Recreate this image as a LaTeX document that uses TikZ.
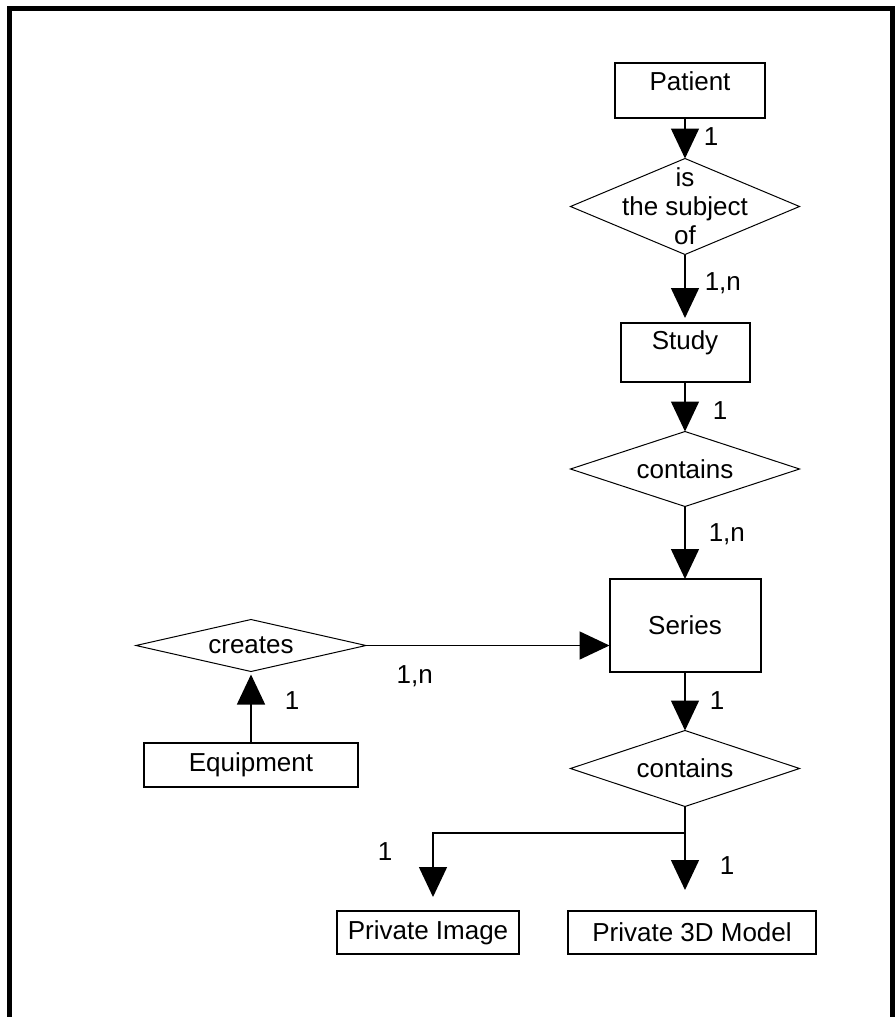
\documentclass[tikz,border=0pt]{standalone}
\usepackage{fontspec}
\setmainfont{Liberation Sans}
\usetikzlibrary{shapes.geometric,positioning,arrows.meta}
\tikzset{
  entity/.style={draw,line width=2pt,inner sep=0pt,outer sep=0pt},
  relship/.style={diamond,draw,line width=1pt,inner sep=0pt,outer sep=0pt,minimum width=229pt},
  card/.style={inner sep=0pt},
  rel/.style={line width=1.5pt,-{Triangle[length=30pt,width=28pt]}}
}

\begin{document}
\begin{tikzpicture}[x=1pt,y=-1pt,font=\fontsize{26}{29}\selectfont]
  \useasboundingbox (0,0) rectangle (896,1017);
  \draw[line width=5pt,line join=miter] (9.5,1025) -- (9.5,8) -- (892.5,8) -- (892.5,1025);

  \node[relship,minimum height=96pt,label={[align=center]center:is\\the subject\\of}] (subject) at (685,206.5) {};
  \node[entity,minimum width=150pt,minimum height=55pt,text depth=18pt] (patient) [above=40.5pt of subject,xshift=5pt] {Patient};
  \node[entity,minimum width=129pt,minimum height=59pt,text depth=24pt] (study) [below=68.5pt of subject] {Study};
  \node[relship,minimum height=75pt,label=center:contains] (contains1) [below=49.5pt of study] {};
  \node[entity,minimum width=151pt,minimum height=93pt] (series) [below=72.5pt of contains1] {Series};
  \node[relship,minimum height=76pt,label=center:contains] (contains2) [below=58.5pt of series] {};
  \node[entity,minimum width=248pt,minimum height=43pt] (p3d) [below=104.5pt of contains2,xshift=7pt] {Private 3D Model};
  \node[entity,minimum width=182pt,minimum height=43pt] (pimg) [left=49pt of p3d] {Private Image};
  \node[relship,minimum width=230pt,minimum height=52pt,label=center:creates] (creates) [left=243.5pt of series,yshift=-20pt] {};
  \node[entity,minimum width=214pt,minimum height=44pt] (equip) [below=71.5pt of creates] {Equipment};
  \coordinate (fork) at ([yshift=-26.5pt]contains2.south);

  \path[rel]
    (patient.south -| subject.north) edge node[card,right=18pt,pos=.47] (c1) {1} (subject.north)
    (subject.south) edge[shorten >=5pt] node[card,right=19pt,pos=.42] (c2) {1,n} (study.north)
    (study.south) edge node[card,right=27pt,pos=.57] (c3) {1} (contains1.north)
    (contains1.south) edge node[card,right=23pt,pos=.38] (c4) {1,n} (series.north)
    (series.south) edge node[card,right=24pt,pos=.48] (c5) {1} (contains2.north)
    (creates.east) edge node[card,below=19pt,pos=.2] (c6) {1,n} (creates.east -| series.west)
    (equip.north) edge[shorten >=3pt] node[card,right=33pt,pos=.59] (c7) {1} (creates.south)
    (contains2.south) edge[-] (fork)
    (fork) edge[shorten >=21pt] node[card,right=34pt,pos=.42] (c9) {1} (fork |- p3d.north);
  \draw[rel,shorten >=14pt] (fork) -| node[card,left=40pt,pos=.62] (c8) {1} ([xshift=5pt]pimg.north);
\end{tikzpicture}
\end{document}
